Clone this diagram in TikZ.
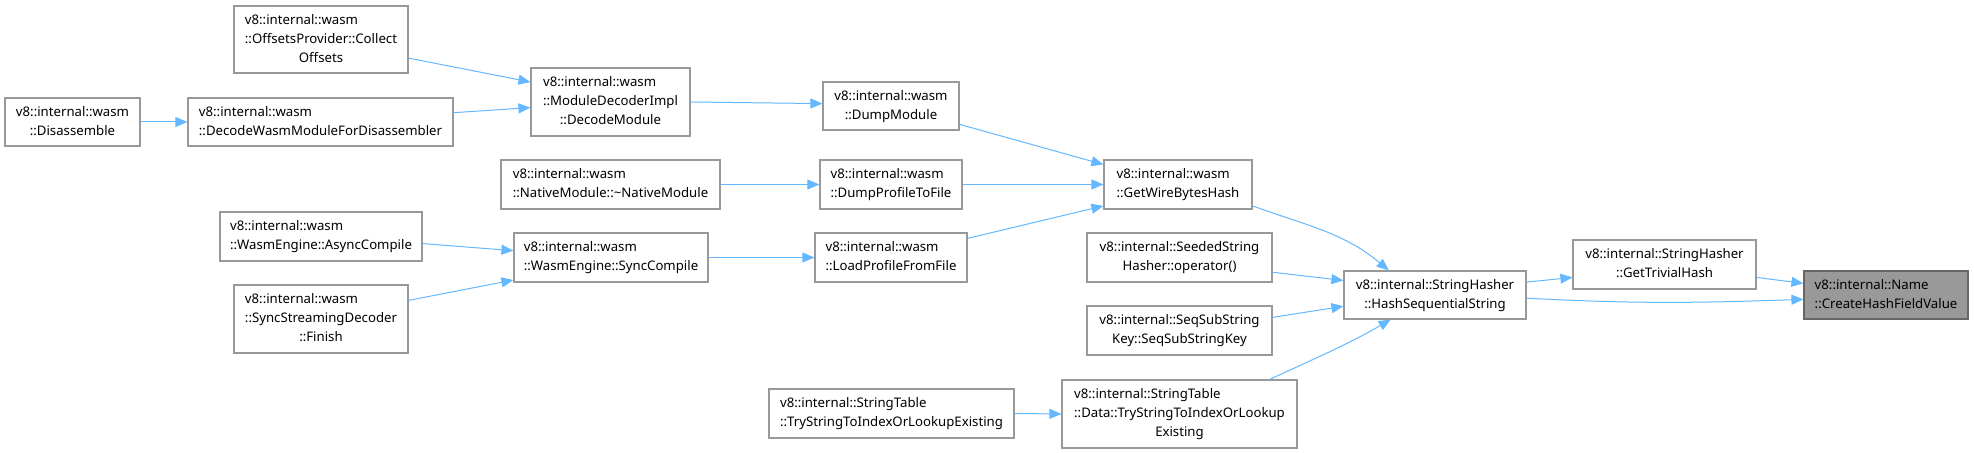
\documentclass[tikz,border=0pt]{standalone}
\usepackage{fontspec}
\setmainfont{Noto Sans}
\usetikzlibrary{arrows.meta}
\definecolor{edgeBlue}{RGB}{99, 184, 255}
\definecolor{boxGray}{RGB}{153, 153, 153}
\definecolor{boxDark}{RGB}{102, 102, 102}
\newcommand{\fnt}[1]{\begin{tabular}{@{}l@{}}#1\end{tabular}}
\newcommand{\cl}[1]{\multicolumn{1}{@{}c@{}}{#1}}

\begin{document}
\begin{tikzpicture}[x=0.5pt, y=-0.5pt,
    fn/.style={draw=boxGray, fill=white, line width=0.6pt, inner sep=0pt,
      font=\fontsize{6.6}{9.5}\selectfont},
    call/.style={draw=edgeBlue, line width=0.5pt, -{Triangle[length=6pt, width=5pt]}}]
        \useasboundingbox (0,0) rectangle (1974,453);

        % wasm side
        \node[fn, minimum width=67.5pt, minimum height=24pt] (dis) at (72.5,122) {\fnt{v8::internal::wasm\\\cl{::Disassemble}}};
        \node[fn, minimum width=132.5pt, minimum height=24pt] (dwm) at (320.5,122) {\fnt{v8::internal::wasm\\::DecodeWasmModuleForDisassembler}};
        \node[fn, minimum width=87pt, minimum height=33.5pt] (ocol) at (321,39.5) {\fnt{v8::internal::wasm\\::OffsetsProvider::Collect\\\cl{Offsets}}};
        \node[fn, minimum width=79.5pt, minimum height=34pt] (mdi) at (610.5,102) {\fnt{v8::internal::wasm\\::ModuleDecoderImpl\\\cl{::DecodeModule}}};
        \node[fn, minimum width=68pt, minimum height=24pt] (dmod) at (891,106) {\fnt{v8::internal::wasm\\\cl{::DumpModule}}};
        \node[fn, minimum width=109.5pt, minimum height=24.5pt] (natm) at (610.5,184.5) {\fnt{v8::internal::wasm\\::NativeModule::\textasciitilde NativeModule}};
        \node[fn, minimum width=71pt, minimum height=24.5pt] (dprof) at (891,184.5) {\fnt{v8::internal::wasm\\::DumpProfileToFile}};
        \node[fn, minimum width=74pt, minimum height=24.5pt] (gwbh) at (1178,184.5) {\fnt{v8::internal::wasm\\::GetWireBytesHash}};
        \node[fn, minimum width=101pt, minimum height=24.5pt] (acomp) at (321,236.5) {\fnt{v8::internal::wasm\\::WasmEngine::AsyncCompile}};
        \node[fn, minimum width=97pt, minimum height=24.5pt] (scomp) at (611,257.5) {\fnt{v8::internal::wasm\\::WasmEngine::SyncCompile}};
        \node[fn, minimum width=76pt, minimum height=24.5pt] (lprof) at (891,257.5) {\fnt{v8::internal::wasm\\::LoadProfileFromFile}};
        \node[fn, minimum width=87pt, minimum height=34pt] (ssd) at (321,319) {\fnt{v8::internal::wasm\\::SyncStreamingDecoder\\\cl{::Finish}}};

        % string hashing side
        \node[fn, minimum width=92.5pt, minimum height=24.5pt] (ssh) at (1179.5,257.5) {\fnt{v8::internal::SeededString\\\cl{Hasher::operator()}}};
        \node[fn, minimum width=92.5pt, minimum height=24.5pt] (ssk) at (1179.5,330.5) {\fnt{v8::internal::SeqSubString\\\cl{Key::SeqSubStringKey}}};
        \node[fn, minimum width=122.5pt, minimum height=24.5pt] (sttry) at (891.5,413.5) {\fnt{v8::internal::StringTable\\::TryStringToIndexOrLookupExisting}};
        \node[fn, minimum width=117.5pt, minimum height=34pt] (stdata) at (1179.5,414) {\fnt{v8::internal::StringTable\\::Data::TryStringToIndexOrLookup\\\cl{Existing}}};
        \node[fn, minimum width=91pt, minimum height=24pt] (hss) at (1435,295) {\fnt{\cl{v8::internal::StringHasher}\\\cl{::HashSequentialString}}};
        \node[fn, minimum width=91.5pt, minimum height=24.5pt] (gth) at (1664.5,264.5) {\fnt{v8::internal::StringHasher\\\cl{::GetTrivialHash}}};
        \node[fn, fill=boxGray, draw=boxDark, minimum width=82pt, minimum height=24pt] (chfv) at (1886,295) {\fnt{v8::internal::Name\\::CreateHashFieldValue}};

        \draw[call] (dis.east) -- (dwm.west);
        \draw[call] (dwm.4) -- (mdi.184);
        \draw[call] (ocol.-12) -- (mdi.166);
        \draw[call] (mdi.east) -- (dmod.178);
        \draw[call] (dmod.-15) -- (gwbh.165);
        \draw[call] (natm.east) -- (dprof.west);
        \draw[call] (dprof.east) -- (gwbh.west);
        \draw[call] (acomp.-4) -- (scomp.176);
        \draw[call] (ssd.12) -- (scomp.193);
        \draw[call] (scomp.east) -- (lprof.west);
        \draw[call] (lprof.14) -- (gwbh.196);
        \draw[call] (sttry.east) -- (stdata.west);

        \draw[call] (gwbh.-16) to[out=-20, in=140] (hss.152);
        \draw[call] (ssh.-9) -- (hss.171);
        \draw[call] (ssk.8) -- (hss.187);
        \draw[call] (stdata.21) to[out=25, in=-150] (hss.209);
        \draw[call] (hss.8) -- (gth.188);
        \draw[call] (gth.-8) -- (chfv.172);
        \draw[call] (hss.-2) to[out=-3, in=182] (chfv.183);
      \end{tikzpicture}
\end{document}
